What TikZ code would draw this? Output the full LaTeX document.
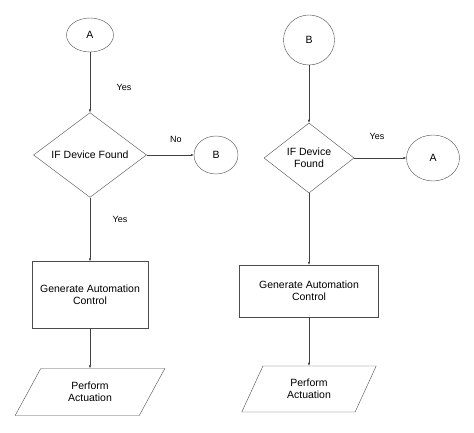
\documentclass[tikz,border=0pt]{standalone}
\usepackage{fontspec}
\setmainfont{Liberation Sans}
\usetikzlibrary{shapes.geometric, arrows.meta, positioning}

\begin{document}
\begin{tikzpicture}[x=1pt, y=-1pt,
  font=\fontsize{10.5}{12}\selectfont,
  connector/.style={draw=black!70, ellipse, inner sep=0},
  decision/.style={draw=black!70, diamond, inner sep=0, align=center},
  process/.style={draw=black!70, rectangle, inner sep=0, align=center},
  io/.style={draw=black!70, trapezium, trapezium left angle=60, trapezium right angle=120, trapezium stretches=true, inner sep=0, align=center},
  flow/.style={draw=black!75, -{Latex[length=3pt, width=2.5pt]}},
  lbl/.style={font=\fontsize{9}{11}\selectfont}
]
  \useasboundingbox (0,0) rectangle (474,433);

  % Left flow
  \node[connector, minimum width=47pt, minimum height=34pt] (aL) at (90, 35) {A};
  \node[decision, minimum width=113pt, minimum height=65pt] (decL) at (90, 155) {IF Device Found};
  \node[connector, minimum width=44pt, minimum height=38pt] (bL) at (216, 155) {B};
  \node[process, minimum width=116pt, minimum height=67pt] (genL) at (90, 295) {Generate Automation\\Control};
  \node[io, minimum width=150pt, minimum height=47pt] (actL) at (90, 392) {Perform\\Actuation};

  % Right flow
  \node[connector, minimum width=51pt, minimum height=50pt] (bR) at (309, 40) {B};
  \node[decision, minimum width=90pt, minimum height=70pt] (decR) at (309, 158) {IF Device\\Found};
  \node[connector, minimum width=53pt, minimum height=46pt] (aR) at (433, 158) {A};
  \node[process, minimum width=139pt, minimum height=52pt] (genR) at (309, 291) {Generate Automation\\Control};
  \node[io, trapezium left angle=63, trapezium right angle=117, minimum width=135pt, minimum height=46pt] (actR) at (309, 389) {Perform\\Actuation};

  % Labels
  \node[lbl] (yes1) at (124, 87) {Yes};
  \node[lbl] (no1) at (176, 139) {No};
  \node[lbl] (yes2) at (120, 219) {Yes};
  \node[lbl] (yes3) at (377, 136) {Yes};

  % Arrows
  \draw[flow] (aL) -- (decL);
  \draw[flow] (decL) -- (bL);
  \draw[flow] (decL) -- (genL);
  \draw[flow] (genL) -- (actL);
  \draw[flow] (bR) -- (decR);
  \draw[flow] (decR) -- (aR);
  \draw[flow] (decR) -- (genR);
  \draw[flow] (genR) -- (actR);

\end{tikzpicture}
\end{document}
